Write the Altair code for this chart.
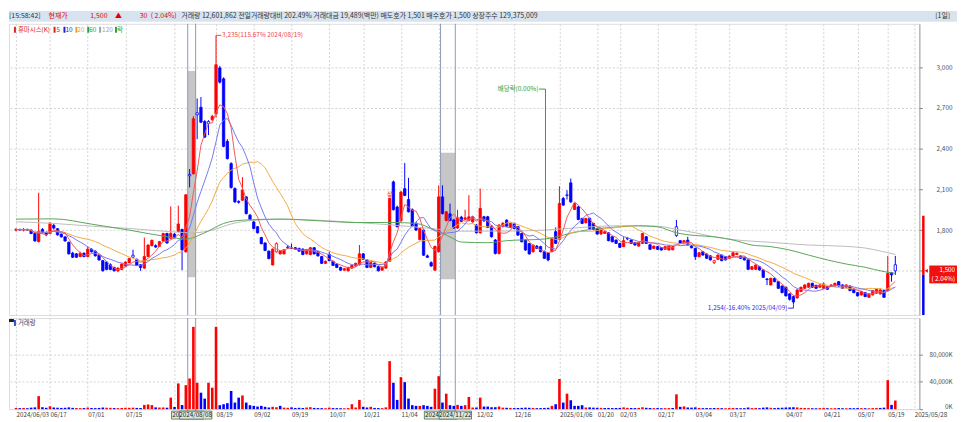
import altair as alt
import pandas as pd

FONT = "Noto Sans CJK KR"
RED = "#ff0000"
BLUE = "#0000ff"
GRID = "#d2d2d2"

# ---------------- daily candles, 2024/06/03 .. 2025/05/21 (index = trading day) ----------------
opens = [
    1800, 1805, 1800, 1805, 1800, 1775, 1715, 1805, 1780, 1775,
    1835, 1810, 1770, 1750, 1710, 1630, 1625, 1605, 1630, 1605,
    1660, 1645, 1615, 1575, 1565, 1545, 1525, 1500, 1510, 1535,
    1560, 1615, 1585, 1545, 1520, 1605, 1685, 1685, 1680, 1720,
    1775, 1740, 1770, 1790, 1805, 1640, 2210, 2215, 2665, 2705,
    2600, 2600, 2613, 2657, 2995, 2915, 2454, 2290, 2106, 2010,
    2020, 2045, 1910, 1860, 1825, 1745, 1705, 1645, 1543, 1640,
    1625, 1625, 1675, 1668, 1670, 1665, 1660, 1625, 1620, 1670,
    1640, 1605, 1555, 1620, 1570, 1550, 1525, 1505, 1500, 1520,
    1535, 1543, 1625, 1580, 1525, 1555, 1530, 1505, 1520, 1570,
    2155, 1970, 1870, 2105, 2025, 1950, 1850, 1730, 1800, 1610,
    1560, 1505, 1640, 2045, 1870, 1920, 1875, 1815, 1895, 1880,
    1870, 1860, 1837, 1780, 1898, 1898, 1830, 1727, 1628, 1825,
    1873, 1820, 1849, 1825, 1775, 1727, 1700, 1640, 1682, 1678,
    1641, 1630, 1641, 1788, 1731, 2033, 2060, 2148, 1952, 1971,
    1886, 1854, 1886, 1849, 1812, 1771, 1776, 1780, 1751, 1727,
    1702, 1678, 1740, 1727, 1707, 1682, 1702, 1751, 1692, 1665,
    1678, 1670, 1658, 1653, 1655, 1825, 1722, 1700, 1726, 1682,
    1665, 1604, 1641, 1624, 1610, 1560, 1584, 1616, 1604, 1592,
    1609, 1620, 1609, 1600, 1580, 1511, 1511, 1530, 1506, 1440,
    1396, 1445, 1420, 1388, 1379, 1330, 1310, 1300, 1347, 1371,
    1379, 1408, 1393, 1379, 1371, 1384, 1388, 1388, 1420, 1396,
    1379, 1388, 1364, 1339, 1322, 1339, 1305, 1322, 1335, 1330,
    1354, 1354, 1486, 1545,
]
highs = [
    1815, 1810, 1815, 1810, 1805, 1780, 2075, 1815, 1790, 1860,
    1845, 1815, 1775, 1755, 1715, 1640, 1630, 1640, 1635, 1680,
    1665, 1650, 1620, 1580, 1570, 1555, 1530, 1525, 1555, 1570,
    1595, 1655, 1590, 1550, 1745, 1695, 1730, 1695, 1720, 1780,
    1780, 1975, 1780, 1980, 1810, 2065, 2250, 2640, 2770, 2780,
    2610, 2610, 2650, 3235, 3010, 2925, 2470, 2300, 2115, 2020,
    2190, 2050, 1920, 1870, 1830, 1750, 1710, 1650, 1665, 1710,
    1650, 1660, 1690, 1700, 1675, 1670, 1665, 1660, 1675, 1675,
    1645, 1610, 1575, 1640, 1575, 1555, 1530, 1520, 1530, 1545,
    1560, 1690, 1630, 1585, 1565, 1560, 1535, 1530, 1570, 2035,
    2165, 1980, 2090, 2295, 2185, 1960, 1860, 1815, 1810, 1620,
    1570, 1685, 2130, 2130, 1940, 1995, 1880, 1950, 1905, 1950,
    2057, 1905, 1845, 2106, 1905, 1905, 1835, 1735, 1845, 1860,
    1880, 1855, 1855, 1830, 1780, 1730, 1705, 1695, 1690, 1685,
    1650, 1635, 1745, 1820, 2123, 2045, 2094, 2180, 2000, 1980,
    1890, 1890, 1892, 1855, 1818, 1810, 1792, 1785, 1755, 1730,
    1706, 1756, 1750, 1732, 1712, 1710, 1780, 1756, 1696, 1686,
    1682, 1674, 1682, 1686, 1682, 1875, 1727, 1726, 1751, 1690,
    1670, 1638, 1646, 1628, 1614, 1580, 1620, 1620, 1608, 1613,
    1637, 1634, 1613, 1604, 1584, 1534, 1547, 1534, 1510, 1445,
    1449, 1449, 1424, 1392, 1383, 1335, 1318, 1363, 1383, 1400,
    1412, 1412, 1397, 1400, 1415, 1388, 1400, 1412, 1424, 1400,
    1400, 1392, 1368, 1343, 1351, 1343, 1334, 1358, 1368, 1371,
    1358, 1609, 1490, 1610,
]
lows = [
    1790, 1795, 1790, 1795, 1770, 1715, 1710, 1775, 1755, 1770,
    1805, 1760, 1745, 1715, 1620, 1595, 1595, 1600, 1600, 1600,
    1635, 1605, 1575, 1495, 1505, 1505, 1495, 1490, 1505, 1530,
    1555, 1595, 1535, 1500, 1515, 1600, 1680, 1670, 1675, 1715,
    1700, 1735, 1740, 1785, 1505, 1635, 2115, 2210, 2470, 2590,
    2480, 2500, 2605, 2630, 2880, 2410, 2320, 2105, 2000, 1995,
    2015, 1915, 1875, 1805, 1775, 1695, 1645, 1585, 1540, 1635,
    1620, 1620, 1660, 1660, 1655, 1640, 1615, 1620, 1615, 1620,
    1605, 1550, 1550, 1570, 1535, 1520, 1500, 1500, 1495, 1515,
    1530, 1540, 1580, 1520, 1520, 1525, 1495, 1500, 1515, 1565,
    1945, 1820, 1860, 2050, 1930, 1825, 1795, 1725, 1610, 1595,
    1530, 1500, 1635, 1915, 1865, 1865, 1810, 1810, 1860, 1875,
    1865, 1855, 1775, 1775, 1860, 1815, 1745, 1620, 1620, 1820,
    1825, 1815, 1805, 1758, 1710, 1648, 1620, 1635, 1660, 1636,
    1588, 1570, 1636, 1698, 1725, 1980, 2025, 2000, 1948, 1872,
    1844, 1850, 1808, 1800, 1766, 1766, 1772, 1718, 1710, 1698,
    1668, 1675, 1725, 1698, 1686, 1678, 1698, 1698, 1654, 1661,
    1654, 1649, 1655, 1650, 1652, 1750, 1698, 1696, 1686, 1665,
    1580, 1600, 1612, 1588, 1576, 1550, 1580, 1571, 1576, 1588,
    1605, 1616, 1588, 1576, 1507, 1507, 1507, 1502, 1448, 1395,
    1392, 1416, 1367, 1335, 1311, 1280, 1254, 1296, 1343, 1367,
    1375, 1375, 1367, 1375, 1367, 1360, 1384, 1384, 1384, 1367,
    1375, 1350, 1335, 1311, 1318, 1306, 1300, 1318, 1331, 1326,
    1300, 1350, 1420, 1470,
]
closes = [
    1805, 1800, 1805, 1800, 1775, 1720, 1790, 1780, 1765, 1850,
    1815, 1765, 1750, 1720, 1625, 1600, 1600, 1630, 1605, 1660,
    1640, 1610, 1580, 1500, 1510, 1510, 1500, 1520, 1550, 1565,
    1590, 1600, 1540, 1525, 1605, 1690, 1725, 1675, 1715, 1775,
    1705, 1775, 1745, 1845, 1655, 2060, 2200, 2620, 2650, 2595,
    2485, 2585, 2638, 3018, 2890, 2417, 2327, 2114, 2008, 2005,
    2095, 1922, 1880, 1812, 1780, 1700, 1650, 1590, 1660, 1700,
    1645, 1655, 1670, 1665, 1660, 1645, 1620, 1655, 1670, 1625,
    1610, 1555, 1570, 1575, 1540, 1525, 1505, 1515, 1525, 1540,
    1555, 1625, 1585, 1525, 1560, 1530, 1500, 1525, 1565, 2035,
    1950, 1825, 2080, 2055, 1935, 1830, 1800, 1812, 1615, 1600,
    1535, 1680, 2045, 1922, 1935, 1870, 1815, 1890, 1865, 1890,
    1898, 1898, 1780, 1960, 1869, 1820, 1751, 1628, 1837, 1849,
    1829, 1849, 1812, 1763, 1714, 1653, 1624, 1690, 1665, 1641,
    1592, 1580, 1739, 1702, 1996, 1984, 2055, 2008, 1996, 1878,
    1849, 1886, 1812, 1805, 1771, 1805, 1788, 1722, 1714, 1702,
    1673, 1722, 1735, 1702, 1690, 1707, 1775, 1702, 1658, 1682,
    1658, 1653, 1678, 1682, 1678, 1760, 1702, 1722, 1690, 1670,
    1604, 1633, 1616, 1592, 1580, 1575, 1616, 1575, 1580, 1609,
    1633, 1630, 1592, 1580, 1511, 1530, 1543, 1506, 1452, 1436,
    1445, 1420, 1371, 1339, 1315, 1290, 1270, 1359, 1379, 1396,
    1408, 1379, 1371, 1396, 1403, 1364, 1396, 1408, 1388, 1371,
    1396, 1354, 1339, 1315, 1347, 1310, 1330, 1354, 1364, 1359,
    1305, 1481, 1470, 1500,
]
# volume in thousands of shares
volumes = [
    1800, 1500, 1600, 1400, 2200, 2600, 19000, 2800, 2000, 4200,
    2400, 2100, 1800, 2000, 2600, 1900, 1700, 1500, 1600, 2300,
    1700, 1500, 1800, 2400, 2100, 1900, 1600, 1500, 1700, 1900,
    2000, 2200, 1800, 1700, 6200, 6800, 5900, 2600, 2400, 2500,
    2100, 16800, 3200, 37500, 6000, 35000, 44700, 120000, 38500, 24000,
    15400, 38500, 31300, 120000, 5800, 7200, 8700, 26500, 9600, 16800,
    20000, 9600, 5800, 4800, 3800, 4800, 3400, 2400, 3400, 2800,
    4800, 2200, 2000, 2600, 1800, 2000, 1700, 2400, 2900, 1800,
    1600, 1500, 1400, 2200, 1600, 1500, 1400, 1300, 1600, 7200,
    2400, 13500, 3400, 2400, 3400, 1800, 1600, 1500, 2600, 70000,
    38500, 13500, 46700, 39400, 15400, 5800, 4800, 4800, 5800, 4800,
    3400, 29800, 48100, 9600, 22600, 5800, 4800, 6200, 4800, 5800,
    17800, 2400, 2400, 16800, 3800, 3800, 2800, 2800, 3800, 2200,
    2000, 1800, 1600, 1700, 1900, 2200, 2000, 1800, 1500, 1600,
    1800, 2000, 4800, 7200, 44000, 9600, 22600, 13000, 4800, 4800,
    5800, 2400, 2600, 2200, 2000, 1900, 1700, 1800, 1600, 1700,
    1800, 2600, 1900, 1700, 1600, 1800, 2800, 2000, 1700, 1500,
    1600, 1400, 1500, 1600, 1700, 21600, 3400, 4000, 2400, 2200,
    2600, 1800, 1500, 1600, 1500, 1700, 1800, 1500, 1400, 1600,
    1800, 1500, 1400, 1500, 2400, 1600, 1800, 1500, 2200, 2600,
    2000, 1600, 1900, 2100, 2400, 2600, 2800, 2500, 1900, 1700,
    1600, 1400, 1300, 1500, 1800, 1400, 1300, 1500, 1600, 1400,
    1300, 1500, 1400, 1600, 1500, 1400, 1300, 1600, 1700, 1800,
    2200, 42300, 6223, 12602,
]
hollow_idx = [31, 46, 48, 51, 69, 72, 146, 162, 175, 185, 233]

# long moving averages (index, value)
ma60_idx = [0, 10, 20, 30, 40, 45, 50, 55, 60, 70, 80, 90, 100, 106, 111, 115, 118, 125, 130, 140,
            145, 150, 160, 165, 170, 175, 180, 185, 190, 195, 200, 205, 210, 215, 220, 225, 230, 233]
ma60_val = [1881, 1883, 1844, 1800, 1751, 1734, 1780, 1849, 1873, 1881, 1869, 1856, 1856, 1849, 1800,
            1750, 1712, 1707, 1722, 1734, 1763, 1795, 1824, 1832, 1824, 1780, 1760, 1751, 1727, 1690,
            1678, 1653, 1616, 1580, 1550, 1526, 1494, 1481]
ma120_idx = [0, 10, 20, 30, 40, 47, 52, 57, 62, 70, 80, 90, 100, 110, 118, 130, 140, 150, 160, 170,
             175, 180, 185, 190, 200, 210, 220, 225, 230, 233]
ma120_val = [1861, 1849, 1829, 1812, 1790, 1780, 1800, 1845, 1870, 1880, 1873, 1856, 1837, 1812, 1792,
             1793, 1800, 1820, 1832, 1829, 1805, 1780, 1750, 1730, 1710, 1690, 1680, 1668, 1640, 1620]

# date axis: gridline positions and their labels ("" where a cursor box hides the label)
tick_idx = [0, 9, 19, 29, 42, 53, 63, 73, 83, 92, 102, 112, 122, 132, 144, 154, 160, 170, 180,
            189, 204, 214, 223, 231, 238]
tick_lab = ["2024/06/03", "06/17", "07/01", "07/15", "", "08/19", "09/02", "09/19", "10/07",
            "10/21", "11/04", "", "12/02", "12/16", "2025/01/06", "01/20", "02/03", "02/17",
            "03/04", "03/17", "04/07", "04/21", "05/07", "05/19", "2025/05/28"]

# cursor lines with their date boxes (the first box of each pair is mostly hidden by the second)
sel_lines = [45.5, 47.6, 112.5, 116.4]
sel_labels = ["20", "2024/08/08", "2024", "2024/11/22"]
sel_full = [False, True, False, True]
shade_x1 = [45.5, 112.5]
shade_x2 = [47.6, 116.4]
shade_lo = [1452, 1437]
shade_hi = [2972, 2369]

cur_price = 1500
prev_close = 1470
range_top = 1906

price_ticks = [1500, 1800, 2100, 2400, 2700, 3000]
vol_ticks = [0, 40000, 80000]

header_text = ["[15:58:42]", "현재가", "1,500", "▲", "30", "( 2.04%)",
               "거래량 12,601,862  전일거래량대비 202.49%  거래대금 19,489(백만)  매도호가 1,501  매수호가 1,500  상장주수 129,375,009",
               "[1일]"]
header_x = [0, 40, 82, 107, 132, 143, 174, 935]
header_col = ["#303030", "#e00000", "#e00000", "#e00000", "#e00000", "#e00000", "#303030", "#303030"]

leg_text = ["휴마시스(K)", "5", "10", "20", "60", "120", "락"]
leg_col = ["#e02020", "#e02020", "#2020e0", "#f0a030", "#30a030", "#a0a0a0", "#30a030"]
leg_mark_x = [5, 45, 55, 67, 79, 91, 107]
leg_text_x = [9, 48, 57, 69, 81, 94, 109]

# ---------------- frames ----------------
n = len(closes)
assert len(opens) == n and len(highs) == n and len(lows) == n and len(volumes) == n

df = pd.DataFrame({"idx": list(range(n)), "open": opens, "high": highs, "low": lows,
                   "close": closes, "vol": volumes})
df["bot"] = df[["open", "close"]].min(axis=1)
df["top"] = df[["open", "close"]].max(axis=1)
df["col"] = [RED if c >= o else BLUE for o, c in zip(opens, closes)]
df["fill"] = ["white" if i in hollow_idx else c for i, c in zip(df["idx"], df["col"])]
prev = [opens[0]] + closes[:-1]
df["vcol"] = [RED if c >= p else BLUE for c, p in zip(closes, prev)]
df["ma5"] = df["close"].rolling(5, min_periods=1).mean()
df["ma10"] = df["close"].rolling(10, min_periods=1).mean()
df["ma20"] = df["close"].rolling(20, min_periods=1).mean()

ma60_df = pd.DataFrame({"idx": ma60_idx, "v": ma60_val})
ma120_df = pd.DataFrame({"idx": ma120_idx, "v": ma120_val})
shade_df = pd.DataFrame({"x1": shade_x1, "x2": shade_x2, "p1": shade_lo, "p2": shade_hi})
sel_df = pd.DataFrame({"x": sel_lines})

W, HP, HV = 919, 294, 92
xs = alt.Scale(domain=[-0.55, 238.06], nice=False, zero=False)
ys = alt.Scale(domain=[1174, 3320], nice=False, zero=False)
vs = alt.Scale(domain=[0, 132850], nice=False, zero=True)

xax_p = alt.Axis(values=tick_idx, labels=False, ticks=False, domain=False, grid=True,
                 gridDash=[2, 2], gridColor=GRID, title=None)
yax_p = alt.Axis(orient="right", values=price_ticks,
                 labelExpr="datum.value == 1500 ? '' : format(datum.value, ',')",
                 grid=True, gridDash=[2, 2], gridColor=GRID, tickSize=3, tickColor="#808080",
                 domainColor="#a0a0a0", labelAlign="right", labelPadding=30, labelFontSize=6.5,
                 labelColor="#505050", labelFont=FONT, title=None)

labs_js = "[" + ",".join("'" + s + "'" for s in tick_lab) + "]"
idx_js = "[" + ",".join(str(i) for i in tick_idx) + "]"
xax_v = alt.Axis(values=tick_idx, labelExpr=labs_js + "[indexof(" + idx_js + ", datum.value)]",
                 labelAlign="left", labelPadding=2, ticks=False, domain=False, grid=True,
                 gridDash=[2, 2], gridColor=GRID, title=None, labelFontSize=6.3,
                 labelColor="#404040", labelFont=FONT, labelOverlap=False, labelFlush=False)
yax_v = alt.Axis(orient="right", values=vol_ticks, labelExpr="format(datum.value, ',') + 'K'",
                 grid=True, gridDash=[2, 2], gridColor=GRID, tickSize=3, tickColor="#808080",
                 domainColor="#a0a0a0", labelAlign="right", labelPadding=30, labelFontSize=6.3,
                 labelColor="#505050", labelFont=FONT, title=None, labelFlush=True)


def XP(f):
    return alt.X(f + ":Q", scale=xs, axis=xax_p)


def YP(f):
    return alt.Y(f + ":Q", scale=ys, axis=yax_p)


one = alt.Chart(pd.DataFrame({"d": [0]}))

# ---------------- header ----------------
hdr_df = pd.DataFrame({"x": header_x, "t": header_text, "c": header_col})
header = alt.layer(
    one.mark_rect(color="#d7e4f0").encode(x=alt.value(0), x2=alt.value(W + 38), y=alt.value(0), y2=alt.value(11)),
    alt.Chart(hdr_df).mark_text(align="left", baseline="middle", fontSize=7, font=FONT).encode(
        x=alt.X("x:Q", scale=None, axis=None), y=alt.value(5.5), text="t:N",
        color=alt.Color("c:N", scale=None)),
).properties(width=W + 35, height=11, view=alt.ViewBackground(stroke="transparent"))

# ---------------- price panel ----------------
shade = alt.Chart(shade_df).mark_rect(fill="#c6c6c6").encode(
    x=XP("x1"), x2="x2:Q", y=YP("p1"), y2="p2:Q")
sel_p = alt.Chart(sel_df).mark_rule(color="#8c9ab6", strokeWidth=1).encode(
    x=XP("x"), y=alt.value(0), y2=alt.value(HP))
base = alt.Chart(df)
wick = base.mark_rule(strokeWidth=1).encode(
    x=XP("idx"), y=YP("low"), y2="high:Q", color=alt.Color("col:N", scale=None))
body = base.mark_bar(width=2.4, strokeWidth=0.8).encode(
    x=XP("idx"), y=YP("bot"), y2="top:Q",
    fill=alt.Fill("fill:N", scale=None), stroke=alt.Stroke("col:N", scale=None))
ma5 = base.mark_line(color="#f05a5a", strokeWidth=1).encode(x=XP("idx"), y=YP("ma5"))
ma10 = base.mark_line(color="#7878f0", strokeWidth=1).encode(x=XP("idx"), y=YP("ma10"))
ma20 = base.mark_line(color="#f2aa40", strokeWidth=1).encode(x=XP("idx"), y=YP("ma20"))
ma60 = alt.Chart(ma60_df).mark_line(color="#5aa55a", strokeWidth=1, interpolate="monotone").encode(
    x=XP("idx"), y=YP("v"))
ma120 = alt.Chart(ma120_df).mark_line(color="#bcbcbc", strokeWidth=1, interpolate="monotone").encode(
    x=XP("idx"), y=YP("v"))

hi_i, hi_p = 53, 3235
lo_i, lo_p = 206, 1254
dv_i, dv_p = 140.3, 2839
conn_df = pd.DataFrame({
    "x": [hi_i, lo_i, lo_i - 1.4, dv_i, dv_i - 1.7],
    "x2": [hi_i + 1.4, lo_i, lo_i, dv_i, dv_i],
    "y": [hi_p, lo_p, 1225, dv_p, dv_p],
    "y2": [hi_p, 1225, 1225, 1655, dv_p],
    "c": ["#f04848", "#3030f0", "#3030f0", "#30a030", "#30a030"],
})
conn = alt.Chart(conn_df).mark_rule(strokeWidth=1).encode(
    x=XP("x"), x2="x2:Q", y=YP("y"), y2="y2:Q", color=alt.Color("c:N", scale=None))
hi_txt = alt.Chart(pd.DataFrame({"x": [hi_i + 1.6], "p": [hi_p], "t": ["3,235(115.67% 2024/08/19)"]})).mark_text(
    align="left", baseline="middle", fontSize=6.5, color="#f04848", font=FONT).encode(
    x=XP("x"), y=YP("p"), text="t:N")
rt_txt = alt.Chart(pd.DataFrame({"x": [lo_i - 1.6, dv_i - 1.9], "p": [1225, dv_p],
                                 "t": ["1,254(-16.40% 2025/04/09)", "배당락(0.00%)"],
                                 "c": ["#3030f0", "#30a030"]})).mark_text(
    align="right", baseline="middle", fontSize=6.5, font=FONT).encode(
    x=XP("x"), y=YP("p"), text="t:N", color=alt.Color("c:N", scale=None))
limit_txt = alt.Chart(pd.DataFrame({"x": [99], "p": [2045], "t": ["상"]})).mark_text(
    align="center", baseline="bottom", fontSize=6, color=RED, font=FONT).encode(
    x=XP("x"), y=YP("p"), text="t:N")

range_df = pd.DataFrame({"p1": [prev_close, 1174], "p2": [range_top, prev_close], "c": [RED, BLUE]})
range_bar = alt.Chart(range_df).mark_rule(strokeWidth=2.5).encode(
    x=alt.value(W + 4), y=YP("p1"), y2="p2:Q", color=alt.Color("c:N", scale=None))
cur_box = one.mark_rect(color="#f01010").encode(
    x=alt.value(W + 10), x2=alt.value(W + 38), y=alt.value(244), y2=alt.value(262))
cur_tri = alt.Chart(pd.DataFrame({"p": [cur_price]})).mark_point(
    shape="triangle-left", filled=True, color=RED, size=14, opacity=1).encode(
    x=alt.value(W + 7), y=YP("p"))
cur_t1 = one.mark_text(text="1,500", align="right", baseline="middle", fontSize=6.3, color="white",
                       font=FONT).encode(x=alt.value(W + 36), y=alt.value(248.5))
cur_t2 = one.mark_text(text="( 2.04%)", align="right", baseline="middle", fontSize=6.3, color="white",
                       font=FONT).encode(x=alt.value(W + 36), y=alt.value(257.5))

legend_layers = []
for mx, tx, t, c in zip(leg_mark_x, leg_text_x, leg_text, leg_col):
    legend_layers.append(one.mark_rect(color=c).encode(
        x=alt.value(mx), x2=alt.value(mx + 2), y=alt.value(3), y2=alt.value(9)))
    legend_layers.append(one.mark_text(text=t, color=c, align="left", baseline="middle",
                                       fontSize=6.5, font=FONT).encode(x=alt.value(tx), y=alt.value(6)))

price = alt.layer(
    shade, sel_p, wick, body, ma120, ma60, ma20, ma10, ma5, conn, hi_txt, rt_txt, limit_txt,
    range_bar, cur_box, cur_tri, cur_t1, cur_t2, *legend_layers
).properties(width=W, height=HP)

# ---------------- volume panel ----------------
XV = alt.X("idx:Q", scale=xs, axis=xax_v)
vbars = alt.Chart(df).mark_bar(width=2.6).encode(
    x=XV, y=alt.Y("vol:Q", scale=vs, axis=yax_v, stack=None),
    color=alt.Color("vcol:N", scale=None))
sel_v = alt.Chart(sel_df).mark_rule(color="#8c9ab6", strokeWidth=1).encode(
    x=alt.X("x:Q", scale=xs, axis=xax_v), y=alt.value(0), y2=alt.value(HV + 2))
vleg = [
    one.mark_rect(color="#202020").encode(x=alt.value(0), x2=alt.value(5), y=alt.value(1), y2=alt.value(4)),
    one.mark_rect(color="#3050c0").encode(x=alt.value(5), x2=alt.value(7), y=alt.value(2), y2=alt.value(8)),
    one.mark_text(text="거래량", align="left", baseline="middle", fontSize=6.5, color="#304070",
                  font=FONT).encode(x=alt.value(9), y=alt.value(5)),
]
box_layers = []
for xv, lab, full in zip(sel_lines, sel_labels, sel_full):
    bdf = pd.DataFrame({"x1": [xv - 4.3], "x2": [xv + 4.3], "x": [xv if full else xv - 4.1], "t": [lab]})
    box_layers.append(alt.Chart(bdf).mark_rect(fill="#dfe8dc", stroke="#4a6a4a", strokeWidth=0.8).encode(
        x=alt.X("x1:Q", scale=xs, axis=xax_v), x2="x2:Q", y=alt.value(HV + 2), y2=alt.value(HV + 10)))
    box_layers.append(alt.Chart(bdf).mark_text(align="center" if full else "left", baseline="middle",
                                               fontSize=6.3, color="#202020", font=FONT).encode(
        x=alt.X("x:Q", scale=xs, axis=xax_v), y=alt.value(HV + 6), text="t:N"))

volume = alt.layer(sel_v, vbars, *vleg, *box_layers).properties(width=W, height=HV)

chart = alt.vconcat(header, price, volume, spacing=0).properties(
    padding=0, background="white"
).configure_view(stroke="#7a7a7a", strokeWidth=1).configure(font=FONT)

chart.save("out.html", embed_options={"renderer": "svg", "actions": False})
